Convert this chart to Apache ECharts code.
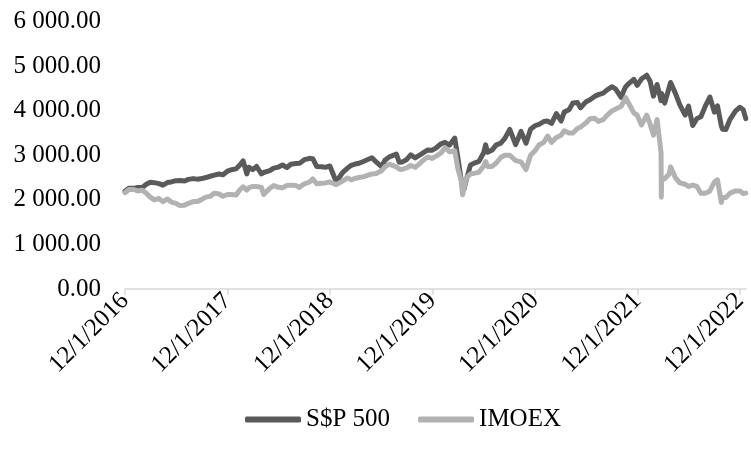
<!DOCTYPE html>
<html>
<head>
<meta charset="utf-8">
<script src="https://cdn.jsdelivr.net/npm/echarts@6/dist/echarts.min.js"></script>
<style>
html,body{margin:0;padding:0;background:#fff;}
#chart{width:751px;height:451px;}
</style>
</head>
<body>
<div id="chart"></div>
<script>
var dates = [
'2016-12-01','2016-12-15','2017-01-01','2017-01-15','2017-02-01','2017-02-15','2017-03-01','2017-03-15','2017-04-01','2017-04-15',
'2017-05-01','2017-05-15','2017-06-01','2017-06-15','2017-07-01','2017-07-15','2017-08-01','2017-08-15','2017-09-01','2017-09-15',
'2017-10-01','2017-10-15','2017-11-01','2017-11-15','2017-12-01','2017-12-15','2018-01-01','2018-01-15','2018-01-26','2018-02-08',
'2018-02-15','2018-03-01','2018-03-15','2018-04-01','2018-04-09','2018-04-15','2018-05-01','2018-05-15','2018-06-01','2018-06-15',
'2018-07-01','2018-07-15','2018-08-01','2018-08-15','2018-09-01','2018-09-20','2018-10-01','2018-10-15','2018-11-01','2018-11-15',
'2018-12-01','2018-12-24','2019-01-15','2019-02-01','2019-02-15','2019-03-01','2019-03-15','2019-04-01','2019-04-30','2019-05-15',
'2019-06-03','2019-06-15','2019-07-01','2019-07-26','2019-08-05','2019-08-15','2019-09-01','2019-09-15','2019-10-01','2019-10-15',
'2019-11-01','2019-11-15','2019-12-01','2019-12-15','2020-01-01','2020-01-15','2020-01-31','2020-02-19','2020-03-01','2020-03-12',
'2020-03-18','2020-03-23','2020-04-01','2020-04-15','2020-05-01','2020-05-15','2020-06-01','2020-06-08','2020-06-15','2020-07-01',
'2020-07-15','2020-08-01','2020-08-15','2020-09-02','2020-09-23','2020-10-12','2020-10-30','2020-11-15','2020-12-01','2020-12-15',
'2021-01-01','2021-01-15','2021-01-29','2021-02-15','2021-03-04','2021-03-15','2021-04-01','2021-04-15','2021-05-01','2021-05-12',
'2021-06-01','2021-06-15','2021-07-01','2021-07-15','2021-08-01','2021-08-15','2021-09-02','2021-09-15','2021-10-04','2021-10-15',
'2021-10-20','2021-11-01','2021-11-18','2021-11-30','2021-12-15','2022-01-03','2022-01-15','2022-01-27','2022-02-09','2022-02-23',
'2022-02-24','2022-02-25','2022-03-08','2022-03-24','2022-03-29','2022-04-15','2022-05-01','2022-05-20','2022-06-01','2022-06-16',
'2022-07-01','2022-07-15','2022-08-01','2022-08-16','2022-09-01','2022-09-12','2022-09-26','2022-09-30','2022-10-12','2022-10-27',
'2022-11-15','2022-12-01','2022-12-13','2022-12-22'
];
var sp500 = [
2191,2262,2258,2275,2280,2350,2396,2385,2363,2329,
2388,2402,2430,2432,2423,2459,2476,2464,2477,2500,
2529,2553,2579,2564,2642,2675,2695,2786,2873,2581,
2731,2678,2748,2582,2613,2656,2654,2711,2735,2780,
2726,2798,2813,2818,2901,2931,2924,2750,2740,2730,
2760,2400,2610,2706,2775,2803,2822,2867,2945,2850,
2744,2886,2964,3025,2844,2847,2906,3007,2940,2995,
3066,3120,3113,3168,3257,3289,3225,3386,2954,2480,
2398,2237,2470,2783,2830,2863,3055,3232,3066,3115,
3226,3271,3373,3580,3237,3534,3270,3585,3662,3694,
3756,3768,3714,3934,3768,3968,4020,4170,4181,4063,
4202,4246,4320,4360,4395,4468,4537,4480,4300,4471,
4537,4613,4704,4567,4709,4796,4662,4326,4587,4225,
4288,4385,4170,4520,4632,4393,4132,3901,4101,3667,
3825,3863,4119,4305,3967,4110,3655,3585,3577,3807,
3991,4076,4019,3822
];
var imoex = [
2160,2230,2232,2200,2215,2150,2060,2000,2030,1960,
2020,1950,1920,1870,1880,1920,1960,1960,2010,2060,
2080,2150,2130,2080,2120,2120,2110,2230,2290,2220,
2270,2300,2300,2280,2120,2150,2260,2320,2280,2270,
2320,2330,2320,2280,2360,2400,2470,2360,2370,2380,
2400,2340,2420,2490,2450,2480,2500,2520,2580,2590,
2650,2740,2800,2740,2690,2680,2720,2770,2730,2800,
2900,2960,2930,2980,3050,3170,3080,3100,2700,2450,
2113,2270,2500,2580,2600,2620,2760,2860,2750,2750,
2820,2950,3000,3000,2880,2850,2680,3000,3100,3230,
3290,3430,3290,3400,3450,3550,3500,3500,3600,3630,
3730,3820,3830,3760,3800,3900,4000,4040,4100,4230,
4290,4150,3950,3900,3680,3900,3700,3450,3800,3060,
2060,2470,2470,2578,2740,2500,2380,2350,2300,2330,
2300,2150,2150,2200,2400,2450,1940,2050,2050,2150,
2200,2200,2140,2150
];
var yTicks = [0,1000,2000,3000,4000,5000,6000];
var xTickLabels = ['12/1/2016','12/1/2017','12/1/2018','12/1/2019','12/1/2020','12/1/2021','12/1/2022'];
var seriesNames = ['S$P 500','IMOEX'];

var DAY = 86400000;
var t0 = Date.UTC(2016,11,1);
function dayNum(s){var p=s.split('-');return (Date.UTC(+p[0],+p[1]-1,+p[2])-t0)/DAY;}
var xs = dates.map(dayNum);
function pairs(vals){return vals.map(function(v,i){return [xs[i],v];});}
var YEAR = 365.25;
var font = "'Liberation Serif','Times New Roman',serif";

function fmtY(v){
  var s = Math.round(v).toString();
  var out = s.replace(/\B(?=(\d{3})+(?!\d))/g,' ');
  return out + '.00';
}

var chart = echarts.init(document.getElementById('chart'), null, {renderer:'canvas'});
chart.setOption({
  animation:false,
  backgroundColor:'#ffffff',
  grid:{left:125, top:21.5, right:0, height:267.5, containLabel:false},
  legend:{
    data:seriesNames,
    left:240, top:402,
    icon:'roundRect',
    itemWidth:56, itemHeight:6, itemGap:28,
    textStyle:{fontFamily:font, fontSize:25, color:'#000'}
  },
  xAxis:{
    type:'value',
    min:0, max:626*YEAR/103.3, interval:YEAR,
    axisLine:{show:true, lineStyle:{color:'#d9d9d9', width:1.5}},
    axisTick:{show:true, length:6, lineStyle:{color:'#d9d9d9', width:1.5}},
    splitLine:{show:false},
    axisLabel:{
      rotate:45, margin:8, fontFamily:font, fontSize:25, color:'#000',
      showMaxLabel:false,
      formatter:function(v){
        var k=Math.round(v/YEAR);
        if (Math.abs(v-k*YEAR)<1 && k<xTickLabels.length) return xTickLabels[k];
        return '';
      }
    }
  },
  yAxis:{
    type:'value', min:yTicks[0], max:yTicks[yTicks.length-1], interval:1000,
    axisLine:{show:false}, axisTick:{show:false}, splitLine:{show:false},
    axisLabel:{margin:24, fontFamily:font, fontSize:25, color:'#000', formatter:fmtY}
  },
  series:[
    {name:seriesNames[0], type:'line', data:pairs(sp500), showSymbol:false, symbol:'none',
     lineStyle:{width:5, color:'#5a5a5a', cap:'round', join:'round'}, itemStyle:{color:'#5a5a5a'}},
    {name:seriesNames[1], type:'line', data:pairs(imoex), showSymbol:false, symbol:'none',
     lineStyle:{width:5, color:'#b2b2b2', cap:'round', join:'round'}, itemStyle:{color:'#b2b2b2'}}
  ]
});
</script>
</body>
</html>
